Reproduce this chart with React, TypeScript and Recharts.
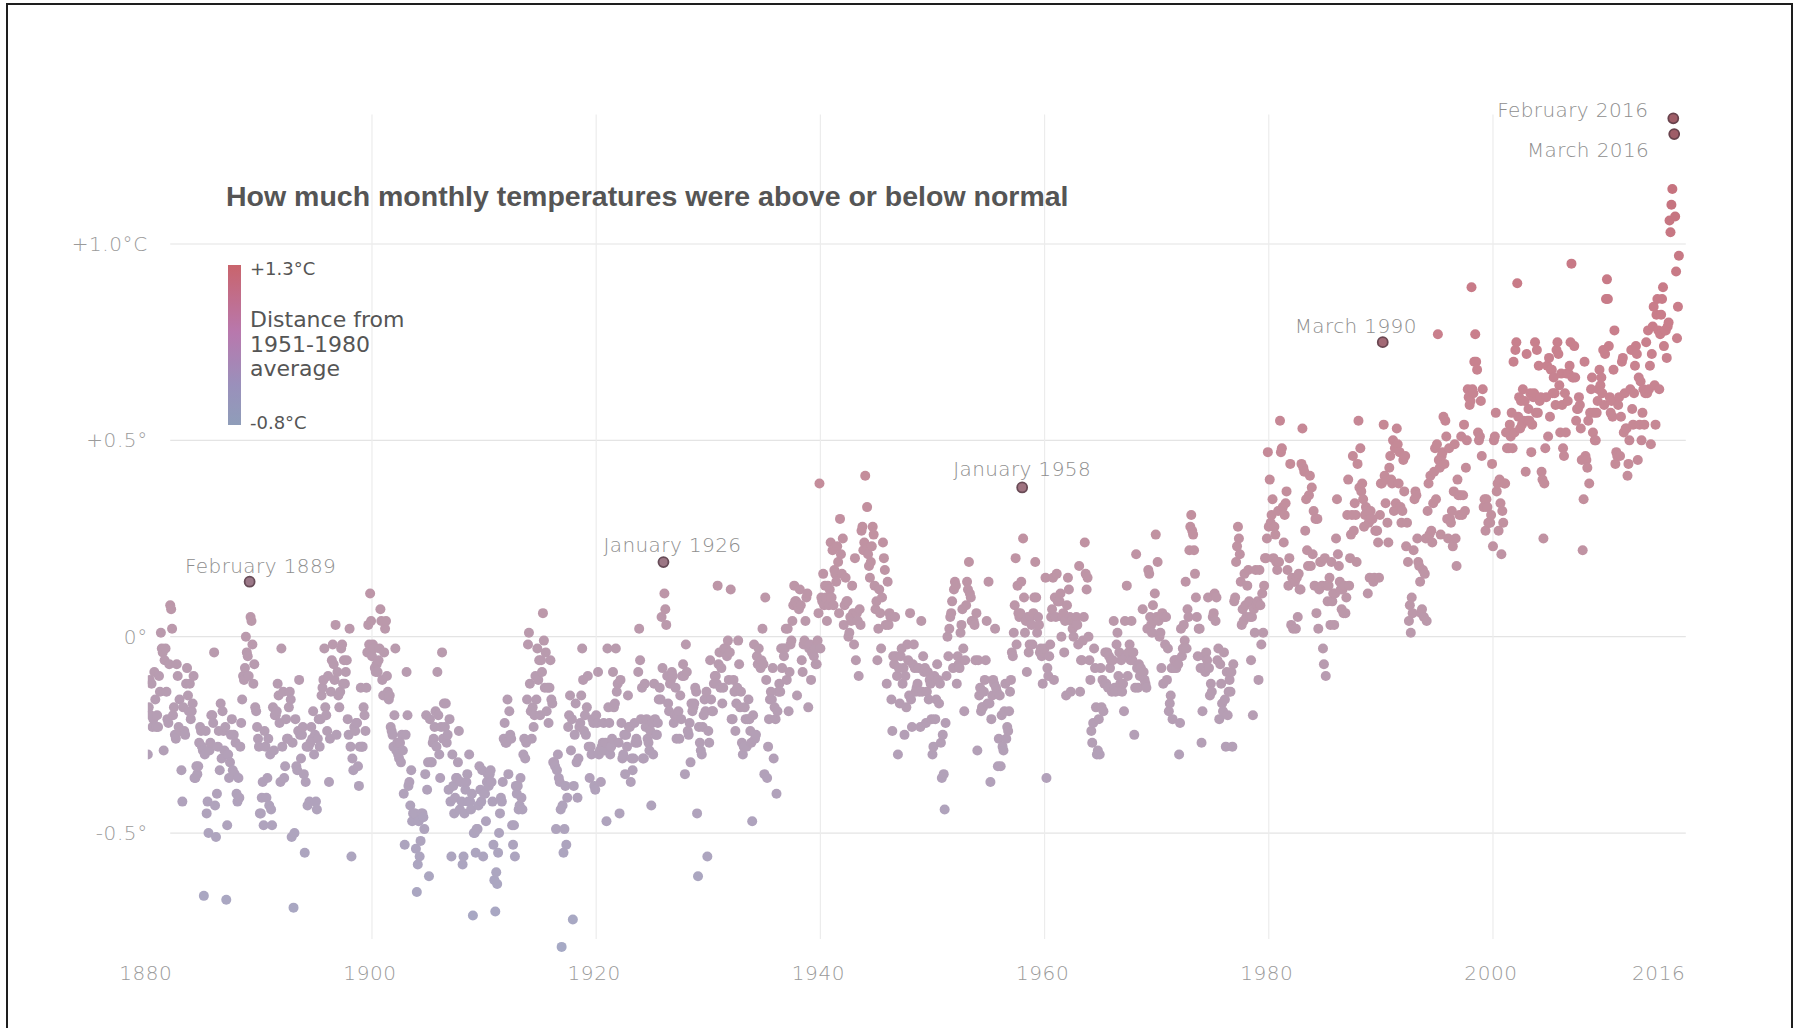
import React from "react";
import { ScatterChart, Scatter, XAxis, YAxis, ReferenceLine } from "recharts";

// ---------- DATA (monthly anomalies vs 1951-1980, hundredths of °C; one row per year, Jan..Dec) ----------
const FIRST_YEAR = 1880;
const MONTH_NAMES = ["January", "February", "March", "April", "May", "June", "July", "August", "September", "October", "November", "December"];

const anom1880s: number[][] = [
  [-30, -18, -11, -20, -12, -23, -21, -9, -16, -23, -20, -23],
  [-10, -14, 1, -3, -4, -29, -6, -3, -14, -21, -22, -7],
  [8, 7, 2, -20, -18, -25, -26, -7, -10, -23, -16, -24],
  [-34, -42, -18, -24, -25, -12, -8, -15, -19, -12, -21, -19],
  [-17, -10, -36, -36, -33, -35, -33, -27, -23, -24, -28, -29],
  [-66, -30, -24, -45, -42, -50, -29, -27, -20, -20, -22, -4],
  [-43, -51, -40, -28, -24, -34, -17, -31, -19, -24, -29, -23],
  [-67, -48, -30, -36, -32, -25, -21, -34, -25, -35, -27, -40],
  [-42, -36, -41, -28, -22, -16, -10, -11, -8, 0, -4, -5],
  [-10, 14, 5, 4, -2, -12, -7, -18, -19, -23, -26, -28],
];
const anom1890s: number[][] = [
  [-45, -45, -41, -37, -48, -24, -28, -41, -36, -26, -43, -30],
  [-44, -48, -18, -29, -20, -20, -19, -12, -15, -22, -37, -3],
  [-28, -14, -36, -33, -21, -26, -26, -18, -14, -16, -51, -27],
  [-69, -50, -21, -33, -34, -24, -11, -25, -31, -25, -23, -35],
  [-55, -37, -28, -43, -28, -42, -27, -23, -26, -19, -30, -25],
  [-42, -44, -26, -21, -28, -21, -15, -13, -11, -3, -18, -20],
  [-24, -10, -37, -26, -14, -6, -2, -7, -11, 3, -25, -9],
  [-15, -18, -14, -3, -2, -12, -6, -12, -9, -6, -21, -25],
  [2, -28, -56, -31, -34, -23, -24, -22, -22, -33, -38, -28],
  [-13, -28, -28, -18, -20, -24, -13, -4, 3, -2, 11, 4],
];
const anom1900s: number[][] = [
  [-5, -2, -3, -8, -9, -7, -9, -6, -3, 7, 4, -11],
  [-15, -4, 2, 4, -10, -14, -16, -15, -23, -24, -25, -28],
  [-20, -3, -29, -27, -30, -31, -27, -32, -25, -29, -40, -53],
  [-25, -9, -20, -38, -37, -43, -34, -47, -45, -45, -45, -54],
  [-65, -58, -47, -56, -52, -45, -45, -46, -49, -35, -20, -39],
  [-32, -61, -21, -32, -32, -27, -26, -23, -19, -28, -9, -20],
  [-30, -36, -23, -4, -26, -17, -23, -17, -27, -25, -39, -21],
  [-42, -56, -30, -38, -45, -41, -36, -36, -32, -24, -44, -37],
  [-42, -58, -56, -45, -39, -37, -35, -42, -30, -42, -44, -40],
  [-71, -50, -50, -55, -49, -49, -43, -33, -39, -42, -34, -56],
];
const anom1910s: number[][] = [
  [-40, -40, -47, -37, -35, -38, -35, -34, -37, -42, -53, -62],
  [-70, -60, -63, -55, -50, -45, -41, -42, -37, -26, -22, -27],
  [-27, -16, -35, -19, -25, -26, -48, -53, -48, -56, -38, -40],
  [-38, -44, -43, -36, -41, -44, -30, -26, -31, -27, -16, -2],
  [1, -12, -19, -26, -18, -23, -20, -10, -16, -3, -11, -6],
  [-20, -6, -9, 6, -1, -13, -4, -19, -13, -22, -13, -6],
  [-16, -17, -32, -32, -33, -49, -34, -30, -36, -37, -44, -79],
  [-43, -55, -49, -38, -53, -41, -23, -20, -15, -29, -21, -72],
  [-38, -25, -17, -32, -41, -31, -23, -22, -15, -3, -11, -24],
  [-20, -25, -18, -10, -28, -36, -28, -30, -21, -22, -38, -39],
];
const anom1920s: number[][] = [
  [-20, -22, -9, -30, -29, -37, -28, -27, -22, -29, -27, -47],
  [-3, -18, -22, -30, -28, -26, -9, -18, -17, -3, -14, -12],
  [-27, -45, -11, -22, -31, -30, -25, -35, -25, -28, -15, -23],
  [-23, -37, -31, -34, -31, -22, -27, -26, -27, -9, 2, -6],
  [-21, -13, -31, -31, -12, -23, -21, -26, -27, -29, -24, -43],
  [-22, -30, -12, -21, -25, -25, -22, -16, -13, -16, 5, -8],
  [19, 11, 7, 3, -10, -17, -19, -12, -11, -9, -10, -22],
  [-20, -13, -26, -20, -19, -26, -15, -21, -10, -7, -10, -35],
  [-2, -9, -24, -25, -22, -32, -17, -19, -18, -17, -13, -14],
  [-45, -61, -23, -27, -29, -30, -23, -20, -16, -19, -14, -56],
];
const anom1930s: number[][] = [
  [-24, -27, -6, -16, -19, -19, -12, -10, -10, -12, 13, -7],
  [-4, -13, -8, -17, -13, -3, -3, -3, -5, -1, -11, -4],
  [12, -21, -21, -11, -14, -24, -17, -13, -1, -7, -18, -14],
  [-27, -30, -28, -18, -21, -28, -21, -16, -21, -24, -27, -47],
  [-20, -2, -26, -25, -5, -7, -3, -7, -8, -6, 2, -7],
  [-35, 10, -11, -36, -28, -21, -16, -14, -16, -8, -31, -18],
  [-21, -40, -19, -14, -12, -14, -3, -8, -3, -5, -3, 2],
  [-11, 2, -19, -9, -2, -1, 4, 8, 13, 9, 9, -15],
  [8, 7, 12, 8, -6, -9, -2, -1, 4, 10, 11, -18],
  [-3, -2, -11, -4, -4, -5, -3, -7, -7, -1, 6, 39],
];
const anom1940s: number[][] = [
  [-3, 10, 9, 16, 8, 13, 10, 4, 13, 8, 12, 24],
  [10, 22, 8, 17, 16, 14, 23, 19, 6, 30, 21, 16],
  [25, 3, 8, 15, 9, 9, 0, 1, 5, 4, 13, 6],
  [-2, 20, -6, 6, 4, -10, 7, 3, 27, 28, 22, 24],
  [41, 22, 33, 21, 18, 15, 19, 23, 28, 26, 13, 7],
  [9, -6, 2, 12, 6, -3, 10, 24, 20, 17, 3, -12],
  [14, 3, 6, 5, -16, -24, -5, -7, 5, -5, -10, -30],
  [-8, -17, -5, -3, -12, -8, -25, -10, -18, -2, -6, -15],
  [6, -16, -23, -7, -2, -8, -14, -13, -12, -8, -14, -23],
  [4, -14, -5, -9, -8, -22, -14, -9, -16, -11, -12, -21],
];
const anom1950s: number[][] = [
  [-30, -28, -10, -21, -16, -7, -11, -17, -12, -27, -36, -25],
  [-35, -44, -22, -10, 0, -5, 2, 5, 6, 9, -8, 12],
  [14, 13, -12, -5, -7, -8, 1, 3, 7, -3, -19, -6],
  [8, 14, 12, 19, 11, 10, 4, 4, 4, 3, -6, 6],
  [-29, -6, -15, -13, -19, -18, -18, -14, -11, -6, 4, -17],
  [14, -17, -37, -21, -15, -11, -12, 2, -13, -14, -33, -26],
  [-15, -33, -20, -28, -29, -19, -12, -26, -23, -24, -19, -14],
  [-11, -4, -5, 1, 8, 20, -2, 13, 6, 5, 6, 14],
  [38, 25, 10, 1, 4, -9, 5, -4, -2, 5, 3, -2],
  [6, 10, 19, 10, 1, 5, 3, -4, -3, -5, -12, -4],
];
const anom1960s: number[][] = [
  [-3, 15, -36, -8, -10, -5, -2, 5, 7, 15, -11, 10],
  [5, 16, 9, 9, 9, 11, 0, 5, 6, -4, 4, -15],
  [8, 15, 12, 5, -14, 4, 2, 0, 4, 4, 5, 3],
  [-2, 18, -14, -6, -6, -1, 5, 24, 16, 12, 15, 0],
  [-6, -11, -24, -27, -22, -3, -8, -18, -30, -29, -21, -30],
  [-8, -18, -11, -19, -12, -4, -12, -4, -13, -5, -8, -6],
  [-14, -6, 4, -13, -14, -2, 1, -10, -4, -12, -6, -14],
  [-12, -19, 4, -5, 13, -10, -4, -2, -6, 4, -6, -4],
  [-25, -13, 21, -8, -13, -7, -10, -8, -9, 7, -9, -11],
  [-12, -13, 2, 17, 16, 5, 3, 1, 8, 4, 11, 26],
];
const anom1970s: number[][] = [
  [5, 19, 4, 0, 1, -8, 6, -12, 5, -2, 5, -11],
  [-3, -19, -17, -15, -8, -21, -8, -6, -6, -8, -6, -7],
  [-30, -22, 2, -5, -3, 3, -1, 14, -3, 7, 5, 22],
  [28, 31, 27, 26, 22, 16, 10, 5, -5, 2, 2, -8],
  [-27, -19, -8, -5, -9, -4, -6, 10, -8, -15, -12, -14],
  [5, 6, 11, 4, 10, -6, -3, -21, -7, -12, -17, -19],
  [-4, -16, -28, -9, -20, -14, -11, -14, -9, -28, -7, 9],
  [10, 19, 23, 28, 25, 21, 14, 3, 7, 4, 16, 8],
  [5, 13, 17, 9, 5, -6, 5, -20, 7, 1, 17, 8],
  [9, -11, 17, 8, -2, 11, 1, 13, 20, 20, 25, 47],
];
const anom1980s: number[][] = [
  [28, 40, 29, 31, 35, 20, 28, 26, 19, 17, 32, 19],
  [55, 47, 48, 33, 24, 31, 34, 37, 17, 13, 20, 44],
  [3, 15, 2, 14, 14, 2, 15, 5, 16, 12, 12, 44],
  [53, 43, 42, 27, 35, 22, 18, 36, 41, 18, 38, 21],
  [32, 13, 30, 6, 30, 2, 12, 19, 19, 13, -3, -7],
  [20, -10, 13, 9, 13, 15, 3, 19, 9, 11, 3, 11],
  [25, 35, 21, 18, 14, 12, 7, 12, 6, 13, 6, 10],
  [31, 40, 13, 20, 26, 31, 46, 27, 34, 31, 19, 44],
  [55, 38, 48, 37, 39, 35, 28, 31, 33, 32, 11, 29],
  [15, 32, 30, 30, 14, 15, 27, 27, 27, 24, 15, 31],
];
const anom1990s: number[][] = [
  [39, 39, 75, 54, 41, 34, 40, 29, 24, 43, 46, 40],
  [39, 50, 32, 48, 34, 53, 49, 39, 47, 33, 29, 32],
  [45, 37, 46, 23, 29, 19, 4, 8, 1, 10, 6, 22],
  [35, 37, 36, 25, 19, 18, 14, 6, 7, 17, 5, 16],
  [25, 4, 32, 39, 26, 41, 27, 24, 34, 42, 48, 35],
  [49, 77, 45, 43, 26, 46, 47, 56, 44, 55, 51, 30],
  [25, 48, 30, 29, 32, 23, 37, 49, 25, 18, 40, 36],
  [31, 36, 51, 31, 36, 54, 32, 43, 50, 63, 61, 59],
  [60, 89, 63, 62, 70, 77, 70, 68, 52, 50, 51, 60],
  [46, 63, 33, 35, 27, 35, 33, 29, 29, 29, 31, 44],
];
const anom2000s: number[][] = [
  [23, 50, 51, 57, 37, 39, 27, 40, 34, 21, 32, 29],
  [39, 39, 52, 48, 52, 48, 54, 51, 57, 48, 70, 52],
  [73, 75, 90, 56, 61, 53, 60, 54, 63, 55, 60, 42],
  [72, 55, 58, 55, 62, 47, 54, 61, 62, 75, 57, 73],
  [57, 69, 60, 61, 42, 40, 25, 39, 48, 61, 69, 51],
  [71, 56, 68, 68, 62, 66, 62, 59, 73, 75, 72, 64],
  [52, 67, 59, 48, 46, 62, 52, 67, 60, 67, 69, 75],
  [95, 66, 66, 74, 66, 55, 58, 58, 61, 59, 53, 45],
  [22, 35, 70, 46, 45, 43, 55, 39, 57, 63, 66, 52],
  [57, 50, 50, 57, 60, 63, 68, 64, 66, 62, 73, 59],
];
const anom2010s: number[][] = [
  [72, 86, 91, 86, 74, 61, 57, 60, 56, 68, 78, 44],
  [47, 46, 59, 61, 46, 56, 70, 71, 52, 62, 53, 53],
  [41, 44, 50, 63, 73, 58, 54, 62, 69, 74, 72, 45],
  [66, 54, 65, 50, 57, 63, 54, 62, 75, 62, 78, 63],
  [69, 49, 72, 79, 84, 64, 54, 82, 86, 78, 63, 77],
  [82, 86, 89, 74, 78, 78, 71, 79, 80, 106, 103, 110],
  [114, 132, 128, 107, 93, 76, 84, 97],
];

const X_TICKS = [1880, 1900, 1920, 1940, 1960, 1980, 2000, 2016];
const GRID_YEARS = [1900, 1920, 1940, 1960, 1980, 2000];
const Y_TICKS = [-0.5, 0, 0.5, 1.0];
const Y_TICK_LABELS = ["-0.5°", "0°", "+0.5°", "+1.0°C"];
const ANNOTATED: [number, number][] = [[1889, 2], [1926, 1], [1958, 1], [1990, 3], [2016, 2], [2016, 3]];
const LEGEND_TOP_LABEL = "+1.3°C";
const LEGEND_BOTTOM_LABEL = "-0.8°C";
const LEGEND_TEXT = ["Distance from", "1951-1980", "average"];
const TITLE = "How much monthly temperatures were above or below normal";

// ---------- STYLE ----------
const COLOR_STOPS: [number, string][] = [
  [-0.8, "#a6a9c5"],
  [-0.4, "#b1a2bb"],
  [0.0, "#ba9aad"],
  [0.4, "#c48d9b"],
  [0.8, "#c97e8b"],
  [1.3, "#c46e79"],
];
const hex = (h: string) => [1, 3, 5].map((i) => parseInt(h.slice(i, i + 2), 16));
const toHex = (c: number[]) => "#" + c.map((v) => Math.round(Math.max(0, Math.min(255, v))).toString(16).padStart(2, "0")).join("");
function colorFor(v: number): string {
  if (v <= COLOR_STOPS[0][0]) return COLOR_STOPS[0][1];
  for (let i = 1; i < COLOR_STOPS.length; i++) {
    const [v1, c1] = COLOR_STOPS[i];
    const [v0, c0] = COLOR_STOPS[i - 1];
    if (v <= v1) {
      const t = (v - v0) / (v1 - v0);
      const a = hex(c0), b = hex(c1);
      return toHex(a.map((x, k) => x + (b[k] - x) * t));
    }
  }
  return COLOR_STOPS[COLOR_STOPS.length - 1][1];
}
function darken(c: string, amt: number) {
  const a = hex(c);
  const d = [74, 52, 62];
  return toHex(a.map((x, k) => x + (d[k] - x) * amt));
}

const LABEL_STYLE: Record<string, { anchor: "start" | "middle" | "end"; dx: number; dy: number }> = {
  "February 1889": { anchor: "middle", dx: 11, dy: -9 },
  "January 1926": { anchor: "middle", dx: 9, dy: -10 },
  "January 1958": { anchor: "middle", dx: 0, dy: -11 },
  "March 1990": { anchor: "middle", dx: -27, dy: -9 },
  "February 2016": { anchor: "end", dx: -25, dy: -1 },
  "March 2016": { anchor: "end", dx: -25, dy: 23 },
};

const LIGHT_FONT = "'DejaVu Sans', 'Liberation Sans', sans-serif";
const DOT_R = 5;

// ---------- BUILD TABLE ----------
type Pt = { t: number; v: number; year: number; month: number; color: string; label?: string };
const allRows = [
  ...anom1880s, ...anom1890s, ...anom1900s, ...anom1910s, ...anom1920s, ...anom1930s, ...anom1940s,
  ...anom1950s, ...anom1960s, ...anom1970s, ...anom1980s, ...anom1990s, ...anom2000s, ...anom2010s,
];
const points: Pt[] = [];
allRows.forEach((row, yi) =>
  row.forEach((h, mi) => {
    const v = h / 100;
    points.push({ t: FIRST_YEAR + yi + mi / 12, v, year: FIRST_YEAR + yi, month: mi + 1, color: colorFor(v) });
  })
);
const isAnnot = (p: Pt) => ANNOTATED.some(([y, m]) => y === p.year && m === p.month);
const plainPts = points.filter((p) => !isAnnot(p));
const annotPts = points.filter(isAnnot).map((p) => ({ ...p, label: `${MONTH_NAMES[p.month - 1]} ${p.year}` }));

// ---------- RENDER HELPERS ----------
const XTick = (props: any) => {
  const { x, y, payload } = props;
  const last = payload.value === X_TICKS[X_TICKS.length - 1];
  return (
    <text x={x + (last ? 13 : -2)} y={y - 10} textAnchor={last ? "end" : "middle"} fontFamily={LIGHT_FONT}
      fontWeight={300} fontSize={20} fill="#9a9a9a" letterSpacing={0.6}>
      {payload.value}
    </text>
  );
};
const YTick = (props: any) => {
  const { x, y, payload } = props;
  const idx = Y_TICKS.indexOf(payload.value);
  return (
    <text x={x} y={y + 7} textAnchor="end" fontFamily={LIGHT_FONT} fontWeight={300} fontSize={20} fill="#9a9a9a" letterSpacing={0.6}>
      {Y_TICK_LABELS[idx]}
    </text>
  );
};
const Dot = (props: any) => {
  const { cx, cy, payload, fill } = props;
  if (cx == null || cy == null) return null;
  return <circle cx={cx} cy={cy} r={DOT_R} fill={(payload && payload.color) || fill} />;
};
const AnnotDot = (props: any) => {
  const { cx, cy, payload } = props;
  if (cx == null || cy == null || !payload) return null;
  const st = LABEL_STYLE[payload.label] || { anchor: "middle", dx: 0, dy: -10 };
  return (
    <g>
      <circle cx={cx} cy={cy} r={DOT_R} fill={darken(payload.color, 0.3)} stroke={darken(payload.color, 0.75)} strokeWidth={1.8} />
      <text x={cx + st.dx} y={cy + st.dy} textAnchor={st.anchor} fontFamily={LIGHT_FONT} fontWeight={300}
        fontSize={20} fill="#8e8e8e" letterSpacing={0.4}>
        {payload.label}
      </text>
    </g>
  );
};

export default function App() {
  const W = 1798, H = 1028;
  return (
    <div style={{ position: "absolute", left: 0, top: 0, width: W, height: H, background: "#fff", overflow: "hidden" }}>
      <ScatterChart width={W} height={H} margin={{ top: 67.3, right: 112.2, bottom: 0, left: 0 }}>
        <XAxis type="number" dataKey="t" domain={[1880, 2017.2]} ticks={X_TICKS} interval={0} allowDataOverflow
          axisLine={false} tickLine={false} tickSize={0} tickMargin={0} height={37.9} tick={(p: any) => <XTick {...p} />} />
        <YAxis type="number" dataKey="v" domain={[-0.9, 1.45]} ticks={Y_TICKS} interval={0} allowDataOverflow
          axisLine={false} tickLine={false} tickSize={0} tickMargin={0} width={147.8} tick={(p: any) => <YTick {...p} />} />
        {Y_TICKS.map((v) => (
          <ReferenceLine key={"h" + v} segment={[{ x: 1882, y: v }, { x: 2017.2, y: v }]} stroke="#e4e4e4" strokeWidth={1.2} />
        ))}
        {GRID_YEARS.map((yr) => (
          <ReferenceLine key={"v" + yr} segment={[{ x: yr, y: -0.77 }, { x: yr, y: 1.33 }]} stroke="#ececec" strokeWidth={1.2} />
        ))}
        <Scatter data={plainPts} isAnimationActive={false} fill="#b89db3" shape={(p: any) => <Dot {...p} />} />
        <Scatter data={annotPts} isAnimationActive={false} fill="#8a5a66" shape={(p: any) => <AnnotDot {...p} />} />
      </ScatterChart>
      <svg width={W} height={H} style={{ position: "absolute", left: 0, top: 0, pointerEvents: "none" }}>
        <defs>
          <linearGradient id="legendGrad" x1="0" y1="0" x2="0" y2="1">
            <stop offset="0%" stopColor="#c9646c" />
            <stop offset="42%" stopColor="#b878ad" />
            <stop offset="75%" stopColor="#9a90bb" />
            <stop offset="100%" stopColor="#8f9db9" />
          </linearGradient>
        </defs>
        <rect x={7} y={4} width={1785} height={1100} fill="none" stroke="#1e1e1e" strokeWidth={2} />
        <text x={226} y={206} fontFamily="'Liberation Sans', Arial, sans-serif" fontWeight={700} fontSize={28.5} fill="#555">
          {TITLE}
        </text>
        <rect x={228} y={265} width={13} height={160} fill="url(#legendGrad)" />
        <text x={250} y={275} fontFamily={LIGHT_FONT} fontSize={18} fill="#555">{LEGEND_TOP_LABEL}</text>
        {LEGEND_TEXT.map((s, i) => (
          <text key={s} x={250} y={327 + i * 24.5} fontFamily={LIGHT_FONT} fontSize={22} fill="#555">{s}</text>
        ))}
        <text x={250} y={429} fontFamily={LIGHT_FONT} fontSize={18} fill="#555">{LEGEND_BOTTOM_LABEL}</text>
      </svg>
    </div>
  );
}
